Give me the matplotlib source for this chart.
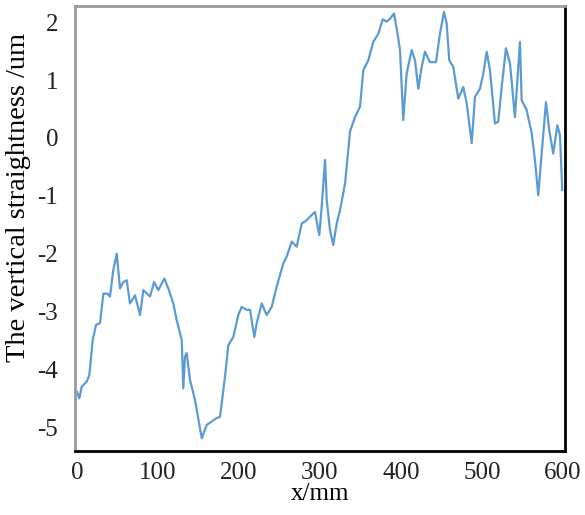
import matplotlib
matplotlib.use('Agg')
import matplotlib.pyplot as plt

# x position (mm) and vertical straightness (um)
x_mm = [0, 2.8, 5.8, 12.0, 15.2, 19.4, 23.5, 28.4, 32.5, 37.4, 40.7, 44.8, 49.0,
        53.1, 57.2, 61.4, 65.4, 71.6, 77.8, 81.9, 90.1, 95.1, 100.4, 107.8, 112.7,
        118.9, 123.1, 129.3, 131.2, 133.3, 135.4, 139.5, 145.7, 154.0, 160.1, 166.3,
        172.5, 176.5, 182.7, 186.8, 193.0, 199.1, 203.3, 209.5, 213.6, 218.9, 221.9,
        228.0, 234.2, 240.4, 246.5, 254.7, 258.9, 265.1, 271.2, 277.4, 283.6, 289.8,
        293.8, 299.1, 302.1, 306.2, 308.3, 312.3, 316.4, 320.6, 324.7, 330.9, 334.9,
        337.0, 343.2, 349.4, 353.5, 359.6, 365.8, 372.0, 377.4, 382.3, 386.4, 391.4,
        394.7, 398.8, 402.8, 407.0, 413.2, 417.3, 421.4, 425.6, 429.6, 435.8, 443.2,
        448.1, 453.1, 456.4, 459.6, 464.6, 470.7, 476.9, 481.1, 487.3, 491.4, 497.5,
        501.6, 505.8, 509.9, 516.0, 520.1, 524.3, 529.6, 534.6, 540.7, 546.9, 549.0,
        555.2, 561.4, 565.4, 569.5, 573.7, 579.0, 583.1, 588.0, 593.0, 596.3, 599.1]
straightness = [-4.39, -4.50, -4.30, -4.21, -4.10, -3.49, -3.23, -3.20, -2.69, -2.69,
                -2.74, -2.28, -2.00, -2.60, -2.49, -2.46, -2.86, -2.72, -3.06, -2.63,
                -2.74, -2.49, -2.63, -2.43, -2.60, -2.86, -3.15, -3.49, -4.33, -3.78,
                -3.72, -4.18, -4.53, -5.19, -4.96, -4.90, -4.84, -4.82, -4.13, -3.58,
                -3.44, -3.06, -2.92, -2.97, -2.97, -3.44, -3.20, -2.86, -3.06, -2.92,
                -2.57, -2.17, -2.05, -1.79, -1.88, -1.48, -1.42, -1.33, -1.28, -1.68,
                -1.19, -0.38, -1.07, -1.59, -1.85, -1.48, -1.25, -0.79, -0.21, 0.11,
                0.36, 0.54, 1.17, 1.34, 1.66, 1.80, 2.05, 2.01, 2.06, 2.15,
                1.89, 1.52, 0.31, 1.11, 1.52, 1.34, 0.85, 1.23, 1.49, 1.31,
                1.31, 1.80, 2.18, 1.98, 1.34, 1.23, 0.68, 0.88, 0.60, -0.09,
                0.71, 0.85, 1.11, 1.49, 1.17, 0.25, 0.28, 0.88, 1.55, 1.29,
                0.36, 1.66, 0.65, 0.48, 0.08, -0.38, -0.99, -0.27, 0.62, 0.13,
                -0.27, 0.22, 0.05, -0.90]

x_ticks = [0, 100, 200, 300, 400, 500, 600]
y_ticks = [-5, -4, -3, -2, -1, 0, 1, 2]

plt.rcParams['font.family'] = ['Liberation Serif', 'DejaVu Serif']
plt.rcParams['axes.unicode_minus'] = False

fig = plt.figure(figsize=(5.85, 5.15), dpi=100)
ax = fig.add_axes([0.1282, 0.1243, 0.8376, 0.864])

ax.plot(x_mm, straightness, color='#5b9bd5', lw=1.6)

ax.set_xlim(-2.5, 602.5)
ax.set_ylim(-5.41, 2.28)
ax.set_xticks(x_ticks)
ax.set_yticks(y_ticks)
ax.tick_params(axis='both', length=0, labelsize=18, colors='#222222')
ax.tick_params(axis='x', pad=8)
ax.tick_params(axis='y', pad=12)

ax.set_xlabel('x/mm', fontsize=18)
ax.xaxis.set_label_coords(0.5, -0.072)
ax.set_ylabel('The vertical straightness /um', fontsize=20.5)
ax.yaxis.set_label_coords(-0.09, 0.57)

for side in ['top', 'left']:
    ax.spines[side].set_color('#9a9a9a')
    ax.spines[side].set_linewidth(2)
for side in ['bottom', 'right']:
    ax.spines[side].set_color('black')
    ax.spines[side].set_linewidth(2)

fig.savefig('out.png', dpi=100)
